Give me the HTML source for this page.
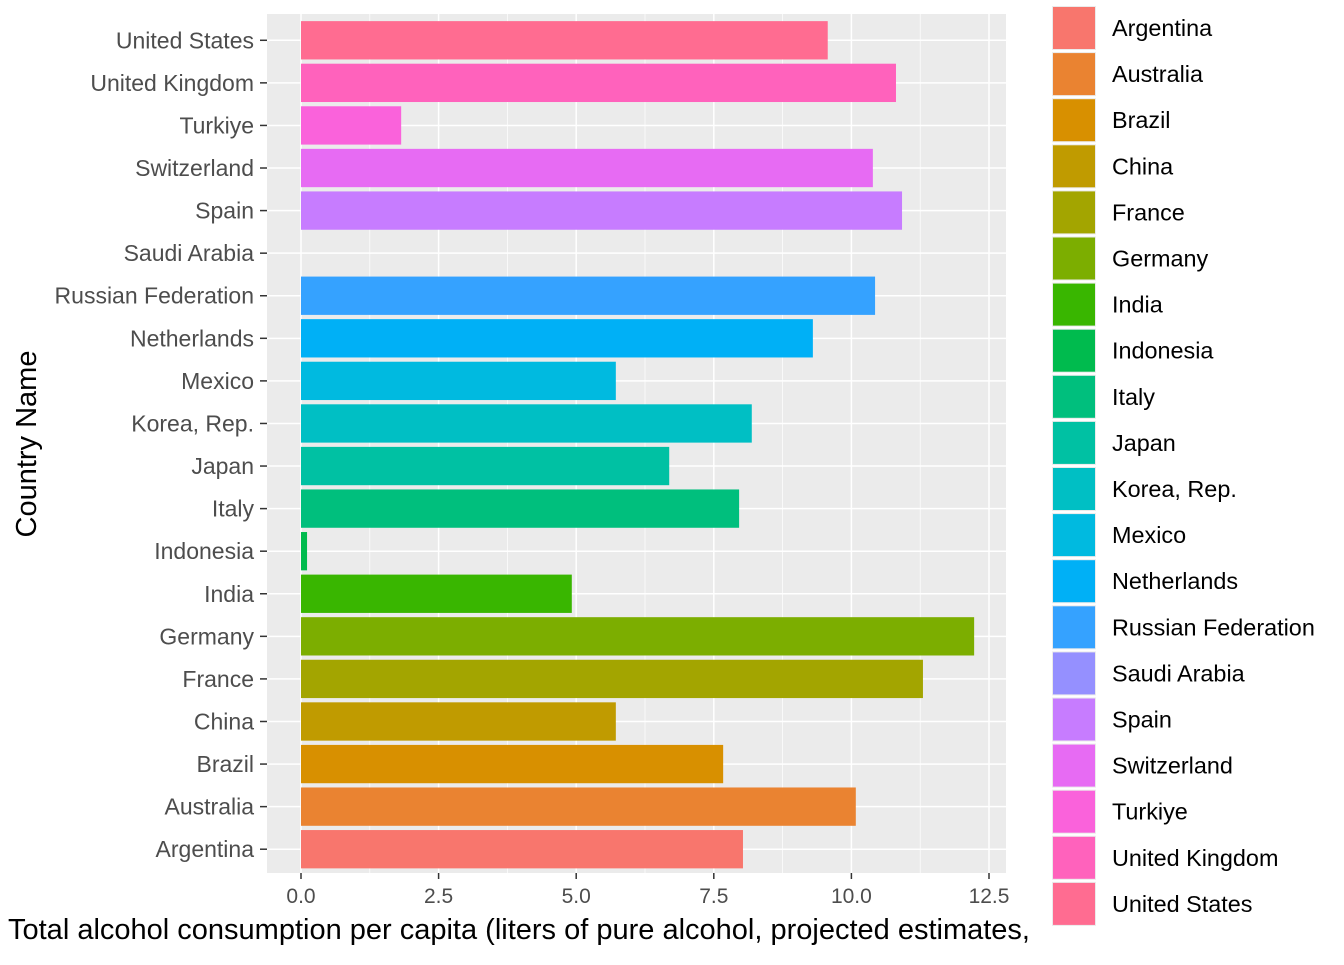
<!DOCTYPE html>
<html><head><meta charset="utf-8"><style>
body{margin:0;background:#fff;font-family:"Liberation Sans",sans-serif}
</style></head><body>
<svg id="c" width="1344" height="960" xmlns="http://www.w3.org/2000/svg"></svg>
<script>
const countries=["Argentina","Australia","Brazil","China","France","Germany","India","Indonesia","Italy","Japan","Korea, Rep.","Mexico","Netherlands","Russian Federation","Saudi Arabia","Spain","Switzerland","Turkiye","United Kingdom","United States"];
const values=[8.03,10.08,7.67,5.72,11.30,12.23,4.92,0.11,7.96,6.69,8.19,5.72,9.30,10.43,0,10.92,10.39,1.82,10.81,9.57];
const colors=["#F8766D","#EA8331","#D89000","#C09B00","#A3A500","#7CAE00","#39B600","#00BB4E","#00BF7D","#00C1A3","#00BFC4","#00BAE0","#00B0F6","#35A2FF","#9590FF","#C77CFF","#E76BF3","#FA62DB","#FF62BC","#FF6C91"];
const ticks=[0,2.5,5,7.5,10,12.5];
const tickLabels=["0.0","2.5","5.0","7.5","10.0","12.5"];
const NS="http://www.w3.org/2000/svg",svg=document.getElementById('c');
function el(t,a,p){const e=document.createElementNS(NS,t);for(const k in a)e.setAttribute(k,a[k]);(p||svg).appendChild(e);return e;}
const PL=267,PR=1006,PT=19,PB=870.5;
const x=v=>301+v*55.04;
const step=(PB-PT)/countries.length;
const y=i=>PB-step*(i+0.5);
let bg=el('rect',{x:PL,y:14,width:PR-PL,height:873-14,fill:'#EBEBEB'});

for(let i=0;i<ticks.length-1;i++){const m=(ticks[i]+ticks[i+1])/2;el('line',{x1:x(m),x2:x(m),y1:14,y2:873,stroke:'#fff','stroke-width':0.7});}
ticks.forEach(t=>el('line',{x1:x(t),x2:x(t),y1:14,y2:873,stroke:'#fff','stroke-width':1.5}));
countries.forEach((c,i)=>el('line',{x1:PL,x2:PR,y1:y(i),y2:y(i),stroke:'#fff','stroke-width':1.5}));
const bh=step*0.9;
countries.forEach((c,i)=>{
 const r=el('rect',{x:x(0),y:y(i)-bh/2,width:Math.max(0,x(values[i])-x(0)),height:bh,fill:colors[i]});
 
 
 el('line',{x1:PL-7,x2:PL,y1:y(i),y2:y(i),stroke:'#333','stroke-width':1.5});
 const t=el('text',{x:PL-13,y:y(i)+8,'text-anchor':'end','font-size':23,fill:'#4D4D4D'});t.textContent=c;
 
});
ticks.forEach((t,i)=>{
 el('line',{x1:x(t),x2:x(t),y1:873,y2:879,stroke:'#333','stroke-width':1.5});
 const l=el('text',{x:x(t),y:903,'text-anchor':'middle','font-size':21,fill:'#4D4D4D'});l.textContent=tickLabels[i];
 
});
const xt=el('text',{x:8,y:939,'font-size':29,fill:'#000'});xt.textContent="Total alcohol consumption per capita (liters of pure alcohol, projected estimates, 15+ years of age)";

const yt=el('text',{x:36,y:444,'font-size':29,fill:'#000','text-anchor':'middle',transform:'rotate(-90 36 444)'});yt.textContent="Country Name";

const lg=el('g',{});
el('rect',{x:1040,y:0,width:304,height:960,fill:'#fff'},lg);
countries.forEach((c,i)=>{
 const ky=6+i*46.1;
 el('rect',{x:1052,y:ky,width:44,height:44,fill:'#EBEBEB'},lg);
 const k=el('rect',{x:1053,y:ky+1,width:42,height:42,fill:colors[i]},lg);
 
 const t=el('text',{x:1112,y:ky+30,'font-size':23.4,fill:'#000'},lg);t.textContent=c;
 
});
</script>
</body></html>
